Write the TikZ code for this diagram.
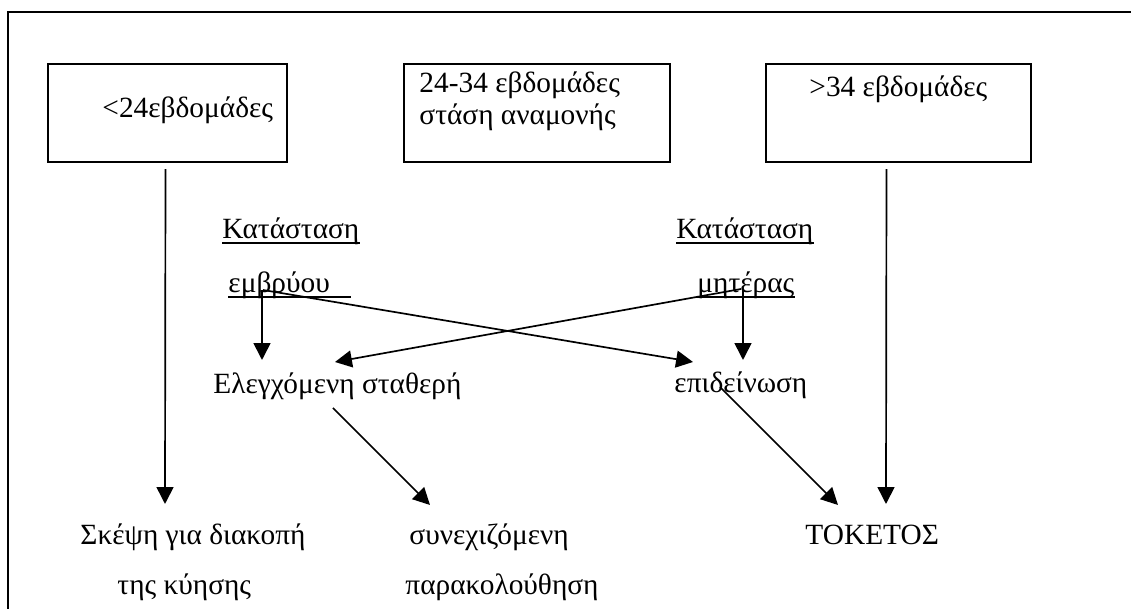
\documentclass[tikz,border=0pt]{standalone}
\usepackage{fontspec}
\setmainfont{Liberation Serif}
\usetikzlibrary{arrows.meta,calc}
\begin{document}
\begin{tikzpicture}[x=0.414pt,y=-0.414pt,
  box/.style={draw,line width=1pt,minimum height=40.6pt,inner sep=0pt},
  txt/.style={inner sep=0pt,anchor=base west,font=\fontsize{12.15}{14}\selectfont},
  arr/.style={line width=0.7pt,-{Triangle[length=7pt,width=7pt]}},
  uline/.style={line width=0.5pt}]
\useasboundingbox (0,0) rectangle (1131,609);
\draw[line width=1pt] (8,609)--(8,12)--(1131,12);
\node[box,minimum width=98.9pt] (lt) at (167.5,113) {};
\node[box,minimum width=110.1pt] (md) at (537,113) {};
\node[box,minimum width=109.7pt] (rt) at (898.5,113) {};
\node[txt] (ltx) at (102,118) {<24εβδομάδες};
\node[txt] (mda) at (419,93) {24-34 εβδομάδες};
\node[txt] (mdb) at (419,125) {στάση αναμονής};
\node[txt] (rtx) at (809,97) {>34 εβδομάδες};
\node[txt] (ka) at (222,239) {Κατάσταση};
\node[txt] (em) at (228,293) {εμβρύου};
\node[txt] (kb) at (676,239) {Κατάσταση};
\node[txt] (mt) at (697,293) {μητέρας};
\node[txt] (el) at (213,394) {Ελεγχόμενη σταθερή};
\node[txt] (ep) at (674,393) {επιδείνωση};
\node[txt] (sk) at (80,545) {Σκέψη για διακοπή};
\node[txt] (ky) at (117,595) {της κύησης};
\node[txt] (sn) at (409,545) {συνεχιζόμενη};
\node[txt] (pk) at (405,595) {παρακολούθηση};
\node[txt] (tk) at (805,545) {ΤΟΚΕΤΟΣ};
\draw[uline] ($(ka.base west)+(0,4)$)--($(ka.base east)+(0,4)$);
\draw[uline] ($(em.base west)+(0,4)$)--($(em.base west)+(123,4)$);
\draw[uline] ($(kb.base west)+(0,4)$)--($(kb.base east)+(0,4)$);
\draw[uline] ($(mt.base west)+(0,4)$)--($(mt.base east)+(0,4)$);
\draw[arr] ($(lt.south)+(-2,6)$)--($(sk.base west)+(85,-41)$);
\draw[arr] ($(rt.south)+(-12,6)$)--($(tk.base west)+(81,-41)$);
\draw[arr] ($(em.base west)+(34,-3)$)--($(el.base west)+(49,-34)$);
\draw[arr] ($(em.base west)+(35,-3)$)--($(ep.base west)+(19,-31)$);
\draw[arr] ($(mt.base west)+(46,-3)$)--($(ep.base west)+(69,-33)$);
\draw[arr] ($(mt.base west)+(44,-4)$)--($(el.base west)+(122,-32)$);
\draw[arr] ($(el.base west)+(120,14)$)--($(sn.base west)+(21,-40)$);
\draw[arr] ($(ep.base west)+(46,-6)$)--($(tk.base west)+(33,-40)$);
\end{tikzpicture}
\end{document}
